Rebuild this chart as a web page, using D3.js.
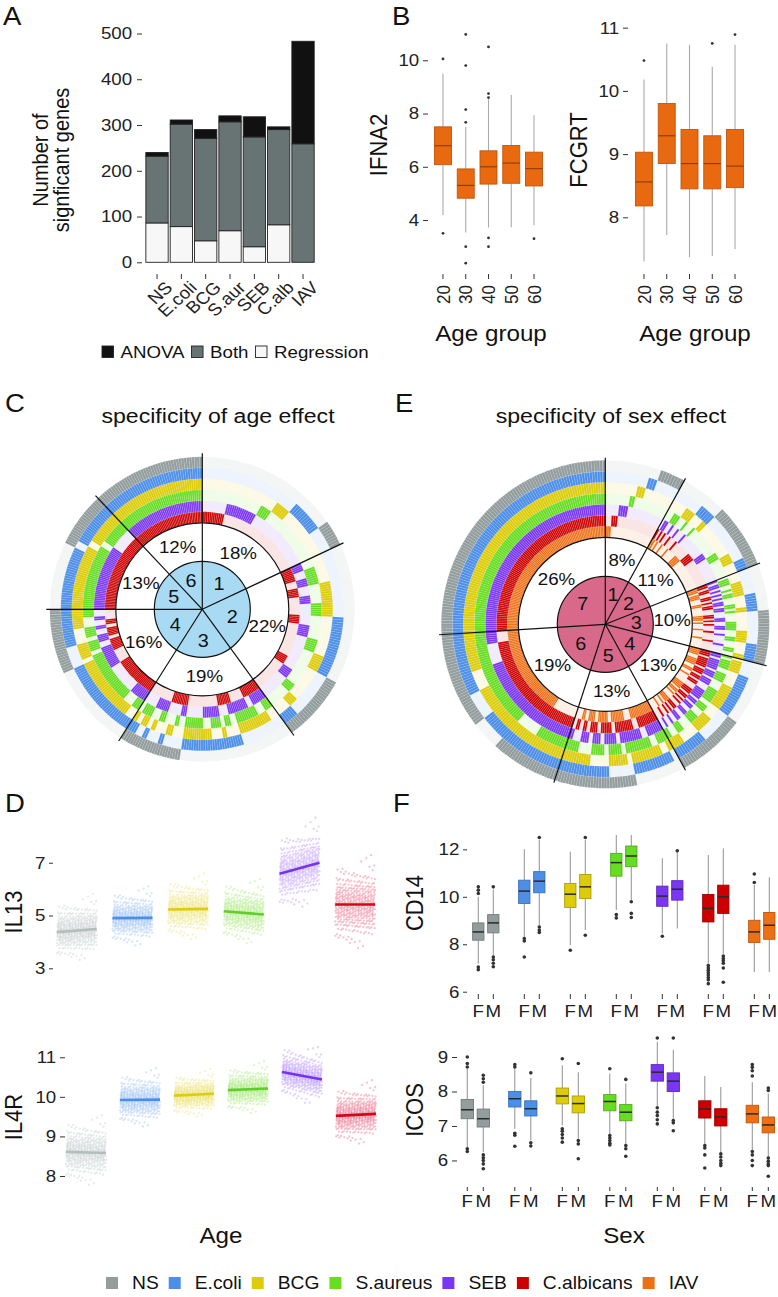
<!DOCTYPE html>
<html><head><meta charset="utf-8">
<script src="https://cdn.jsdelivr.net/npm/d3@7"></script>
<style>
body{margin:0;background:#fff}
svg{display:block}
text{font-family:"Liberation Sans",Arial,Helvetica,sans-serif}
</style>
</head><body>
<svg id="chart" width="778" height="1297"></svg>
<script>
// ---------------- DATA ----------------
// Panel A
const stimA = ["NS","E.coli","BCG","S.aur","SEB","C.alb","IAV"];
const regressionA = [86,78,47,69,34,82,0];
const bothA = [146,224,224,238,240,208,259];
const anovaA = [8,9,19,13,44,6,224];
const ticksA = [0,100,200,300,400,500];

// Panel B  (5-number summaries: lowWhisker, q1, median, q3, highWhisker)
const ageGroups = ["20","30","40","50","60"];
const ifna2Box = [[4.19,6.08,6.79,7.50,9.50],[3.53,4.82,5.30,5.92,7.50],[3.72,5.35,6.00,6.60,8.54],[3.73,5.38,6.14,6.80,8.70],[3.80,5.28,5.93,6.55,7.94]];
const ifna2Out = [[10.05,3.5],[7.67,8.15,9.8,10.97,3.0,2.38],[8.6,8.75,10.5,3.33,3.0],[],[3.3]];
const fcgrtBox = [[7.30,8.18,8.56,9.03,10.18],[7.72,8.85,9.29,9.80,10.75],[7.37,8.45,8.85,9.39,10.73],[7.39,8.45,8.85,9.29,10.38],[7.50,8.47,8.81,9.39,10.73]];
const fcgrtOut = [[10.48],[],[],[10.75],[10.89]];
const ifna2Ticks = [4,6,8,10];
const fcgrtTicks = [8,9,10,11];

// Panels C / E : sector shares (%) and gene runs [stimulus set, gene count]
// codes: N=NS E=E.coli B=BCG S=S.aureus P=SEB C=C.albicans I=IAV
const ageRingOrder = ["C","P","S","B","E","N"];          // inner -> outer
const ageSectorPct = [18,22,19,16,13,12];
const ageRuns1 = [["C",12],["P",15],["S",5],["B",6],["E",12],["N",9]];
const ageRuns2 = [["CP",4],["CS",4],["PS",4],["CB",5],["PB",4],["SB",6],["CE",5],["PE",6],["SE",6],["BE",7],["CN",5],["PN",5],["SN",4],["BN",4],["EN",6]];
const ageRuns3 = [["CPS",4],["CPB",4],["CSB",3],["PSB",8],["CPE",3],["CSE",3],["CBE",2],["PSE",5],["PBE",4],["SBE",9],["CPN",3],["CSN",2],["CBN",3],["CEN",2],["PSN",3],["PBN",2],["PEN",2],["SBN",3],["SEN",2],["BEN",2]];
const ageRuns4 = [["CPSE",4],["CPBE",5],["CSBE",16],["PSBE",8],["CPSN",2],["CPBN",2],["CSBN",3],["PSBN",2],["CPEN",2],["CSEN",3],["PSEN",2],["CBEN",3],["PBEN",2],["SBEN",4]];
const ageRuns5 = [["CPSBE",26],["CPSBN",3],["CPSEN",3],["CPBEN",3],["CSBEN",12]];
const ageRuns6 = [["CPSBEN",43]];

const sexRingOrder = ["I","C","P","S","B","E","N"];
const sexSectorPct = [8,11,10,13,13,19,26];
const sexRuns1 = [["I",3],["C",3],["P",4],["S",2],["B",3],["E",3],["N",8]];
const sexRuns2 = [["IC",1],["IP",1],["CP",1],["IS",1],["CS",1],["PS",1],["IB",1],["CB",1],["PB",1],["SB",1],["IE",1],["CE",1],["PE",1],["SE",1],["BE",2],["IN",4],["CN",4],["PN",3],["SN",3],["BN",4],["EN",4]];
const sexRuns3 = [["ICP",1],["ICS",1],["IPS",1],["CPS",1],["ICB",1],["IPB",1],["ISB",1],["CPB",1],["CSB",1],["PSB",1],["ICE",1],["IPE",1],["CPE",1],["CSE",1],["PSE",1],["PBE",1],["SBE",1],["ICN",2],["IPN",1],["CPN",1],["ISN",1],["CSN",1],["PSN",2],["IBN",1],["CBN",1],["PBN",1],["SBN",2],["IEN",1],["CEN",1],["PEN",1],["SEN",2],["BEN",2]];
const sexRuns4 = [["ICPS",1],["ICPB",1],["ICSB",1],["IPSB",1],["CPSB",2],["ICPE",2],["ICSE",1],["IPSE",1],["CPSE",2],["ICBE",1],["IPBE",1],["CPBE",2],["ISBE",1],["CSBE",2],["PSBE",3],["ICPN",2],["ICSN",1],["IPSN",1],["CPSN",1],["ICBN",1],["IPBN",1],["CPBN",1],["ISBN",1],["CSBN",1],["PSBN",2],["ICEN",2],["IPEN",1],["CPEN",1],["ISEN",1],["CSEN",1],["PSEN",1],["IBEN",1],["CBEN",1],["PBEN",1],["SBEN",2]];
const sexRuns5 = [["ICPSB",2],["ICPSE",3],["ICPBE",3],["ICSBE",3],["IPSBE",3],["CPSBE",4],["ICPSN",2],["ICPBN",2],["ICSBN",2],["IPSBN",2],["CPSBN",2],["ICPEN",2],["ICSEN",2],["IPSEN",2],["CPSEN",2],["ICBEN",2],["IPBEN",2],["CPBEN",2],["ISBEN",2],["CSBEN",2],["PSBEN",2]];
const sexRuns6 = [["CPSBEN",14],["ICPBEN",10],["ICPSBE",10],["ICPSBN",10],["ICPSEN",8],["ICSBEN",10],["IPSBEN",6]];
const sexRuns7 = [["ICPSBEN",94]];

// Panel D (per-stimulus distribution summary and fitted age line)
const stimD = ["NS","E.coli","BCG","S.aureus","SEB","C.albicans"];
const stimDCodes = ["N","E","B","S","P","C"];
const il13Mean = [4.45,4.90,5.25,5.10,6.80,5.40];
const il13Sd = [0.42,0.38,0.42,0.42,0.55,0.60];
const il13LineStart = [4.37,4.90,5.23,5.16,6.58,5.42];
const il13LineEnd = [4.49,4.91,5.25,5.04,7.00,5.42];
const il4rMean = [8.60,9.93,10.05,10.19,10.54,9.55];
const il4rSd = [0.30,0.25,0.20,0.22,0.25,0.27];
const il4rLineStart = [8.61,9.92,10.03,10.17,10.63,9.52];
const il4rLineEnd = [8.58,9.93,10.08,10.21,10.44,9.57];
const il13Ticks = [3,5,7];
const il4rTicks = [8,9,10,11];

// Panel F (5-number summaries by sex)
const stimF = ["NS","E.coli","BCG","S.aureus","SEB","C.albicans","IAV"];
const stimFCodes = ["N","E","B","S","P","C","I"];
const cd14Female = [[7.18,8.17,8.52,8.90,10.00],[8.30,9.72,10.24,10.70,12.00],[7.96,9.55,10.11,10.56,11.90],[9.44,10.87,11.44,11.83,12.60],[8.45,9.60,10.03,10.45,11.62],[7.18,8.94,9.51,10.10,11.76],[6.83,8.07,8.52,9.01,10.50]];
const cd14FemaleOut = [[10.14,10.28,10.42,7.04,6.93],[8.24,8.14,7.46],[7.75],[9.25,9.11],[8.34],[7.1,7.0,6.9,6.8,6.7,6.6,6.5,6.34],[10.6,10.96]];
const cd14Male = [[7.54,8.48,8.90,9.25,10.30],[8.80,10.17,10.66,11.06,12.40],[8.60,9.93,10.42,10.94,12.40],[9.86,11.27,11.72,12.14,12.60],[8.66,9.86,10.32,10.68,11.90],[7.60,9.30,10.00,10.49,12.04],[6.83,8.21,8.80,9.34,10.82]];
const cd14MaleOut = [[10.42,7.46,7.35,7.2,7.05],[12.5,8.73,8.6,8.5],[12.5,8.38],[9.79,9.3,9.13],[11.94],[7.5,7.4,7.3,7.2,7.0,6.4],[]];
const icosFemale = [[6.39,7.21,7.47,7.77,8.66],[6.92,7.55,7.79,8.00,8.66],[7.02,7.64,7.87,8.10,8.76],[6.77,7.44,7.71,7.91,8.52],[7.58,8.30,8.56,8.78,9.44],[6.48,7.23,7.49,7.73,8.45],[6.29,7.09,7.35,7.60,8.27]];
const icosFemaleOut = [[9.0,8.81,8.71,6.34,6.26],[8.78,8.71,6.79,6.73,6.41],[8.95,6.92,6.85,6.75,6.65,6.53],[8.66,6.72,6.65,6.58,6.5,6.45],[9.55,7.53,7.4,7.3,7.18,7.06],[6.43,6.36,6.16,5.78],[8.78,8.7,8.6,8.45,6.26,6.16,6.0,5.85]];
const icosMale = [[6.24,6.97,7.21,7.49,8.18],[6.58,7.29,7.50,7.73,8.39],[6.63,7.38,7.65,7.87,8.56],[6.48,7.15,7.40,7.62,8.23],[7.21,8.00,8.30,8.54,9.21],[6.24,7.00,7.26,7.50,8.13],[6.10,6.80,7.03,7.26,7.94]];
const icosMaleOut = [[8.47,8.37,8.27,6.16,6.08,6.0,5.9,5.76],[8.54,6.51,6.42],[8.81,6.58,6.48,6.05],[8.35,6.43,6.34,6.12],[9.55,7.16,7.09,6.86],[6.19,6.1,6.0,5.92,5.85],[8.1,8.03,6.07,5.98,5.9,5.85,5.54]];
const cd14Ticks = [6,8,10,12];
const icosTicks = [6,7,8,9];

// Legend
const legendNames = ["NS","E.coli","BCG","S.aureus","SEB","C.albicans","IAV"];
const legendCodes = ["N","E","B","S","P","C","I"];

// ---------------- STYLE ----------------
const stimColors = {N:"#939d9d",E:"#4d8fe8",B:"#ddcc0a",S:"#66dd22",P:"#7b36f3",C:"#cc0000",I:"#ee7015"};
const pointColors = {N:"#a3acac",E:"#5d9cec",B:"#e2d01c",S:"#74dc2c",P:"#8e55f6",C:"#dc1747"};
const lineColors = {N:"#b4bcbc",E:"#4a8fe7",B:"#dfcb10",S:"#62cc2e",P:"#7533ee",C:"#cc0a1a"};
const FONT = '"Liberation Sans", Arial, Helvetica, sans-serif';
const SX = 1.1;
const svg = d3.select("#chart");

function label(parent, x, y, str, size, opt = {}) {
  const rot = opt.rotate ? ` rotate(${opt.rotate})` : "";
  const t = parent.append("text")
    .attr("transform", `translate(${x},${y}) scale(${SX},1)${rot}`)
    .attr("font-size", size)
    .attr("text-anchor", opt.anchor || "start")
    .attr("fill", opt.fill || "#111")
    .text(str);
  if (opt.dy) t.attr("dy", opt.dy);
  return t;
}
function styleAxis(g, size) {
  g.attr("font-family", FONT).attr("font-size", size);
  g.select(".domain").remove();
  g.selectAll(".tick line").attr("stroke", "#333").attr("stroke-width", 1);
  g.selectAll(".tick text").attr("fill", "#222");
}
function leftAxis(scale, ticks, x, size, tickSize, pad) {
  const g = svg.append("g").attr("transform", `translate(${x},0)`)
    .call(d3.axisLeft(scale).tickValues(ticks).tickFormat(d3.format("d")).tickSize(tickSize).tickPadding(pad));
  styleAxis(g, size);
  g.selectAll(".tick text").attr("transform", `scale(${SX},1)`);
  return g;
}
function drawBox(g, cx, w, st, out, y, fill, stroke, medCol, whiskCol, medW, outR) {
  const [lo, q1, med, q3, hi] = st;
  g.append("line").attr("x1", cx).attr("x2", cx).attr("y1", y(hi)).attr("y2", y(q3)).attr("stroke", whiskCol).attr("stroke-width", 1.1);
  g.append("line").attr("x1", cx).attr("x2", cx).attr("y1", y(q1)).attr("y2", y(lo)).attr("stroke", whiskCol).attr("stroke-width", 1.1);
  g.append("rect").attr("x", cx - w / 2).attr("width", w).attr("y", y(q3)).attr("height", y(q1) - y(q3))
    .attr("fill", fill).attr("stroke", stroke).attr("stroke-width", 0.9);
  g.append("line").attr("x1", cx - w / 2).attr("x2", cx + w / 2).attr("y1", y(med)).attr("y2", y(med)).attr("stroke", medCol).attr("stroke-width", medW);
  g.selectAll(null).data(out).enter().append("circle").attr("cx", cx).attr("cy", d => y(d)).attr("r", outR).attr("fill", "#333");
}

// ---------------- PANEL A ----------------
label(svg, 3, 25, "A", 25);
const xA = d3.scaleBand().domain(stimA).range([144.85, 315.2]).paddingInner(0.083).paddingOuter(0.0415);
const yA = d3.scaleLinear().domain([0, 500]).range([262.3, 33.5]);
const tableA = stimA.map((s, i) => ({stim: s, Regression: regressionA[i], Both: bothA[i], ANOVA: anovaA[i]}));
const keysA = ["Regression", "Both", "ANOVA"];
const fillA = {ANOVA: "#111111", Both: "#687474", Regression: "#f7f7f7"};
const stackA = d3.stack().keys(keysA)(tableA);
const gA = svg.append("g");
stackA.forEach(layer => {
  gA.selectAll(null).data(layer).enter().append("rect")
    .attr("x", d => xA(d.data.stim)).attr("width", xA.bandwidth())
    .attr("y", d => yA(d[1])).attr("height", d => yA(d[0]) - yA(d[1]))
    .attr("fill", fillA[layer.key]).attr("stroke", "#222").attr("stroke-width", 0.9);
});
leftAxis(yA, ticksA, 142, 17, 5, 4);
const gAx = svg.append("g").attr("transform", "translate(0,274)").call(d3.axisBottom(xA).tickSize(5));
styleAxis(gAx, 17);
gAx.selectAll(".tick text").attr("text-anchor", "end").attr("x", 0).attr("y", 0).attr("dy", "0.72em")
  .attr("transform", `translate(7,6) scale(${SX},1) rotate(-45)`);
label(svg, 48, 160, "Number of", 20, {rotate: -90, anchor: "middle"});
label(svg, 69, 160, "signficant genes", 20, {rotate: -90, anchor: "middle"});
// legend A
(function () {
  let x = 102;
  const items = [["ANOVA", "#111111"], ["Both", "#687474"], ["Regression", "#f7f7f7"]];
  items.forEach(([name, col]) => {
    svg.append("rect").attr("x", x).attr("y", 346).attr("width", 11.5).attr("height", 11.5).attr("fill", col).attr("stroke", "#222").attr("stroke-width", 0.9);
    const t = label(svg, x + 18.5, 358, name, 17);
    x += 18.5 + t.node().getComputedTextLength() * SX + 7;
  });
})();

// ---------------- PANEL B ----------------
label(svg, 392, 25, "B", 25);
const orange = "#e8690f", orangeStroke = "#c2560f", orangeMed = "#8a3a08";
const xB1 = d3.scaleBand().domain(ageGroups).range([431.6, 545.4]);
const xB2 = d3.scaleBand().domain(ageGroups).range([632.6, 746.4]);
const yB1 = d3.scaleLinear().domain([2.3, 11.1]).range([265.3, 31]);
const yB2 = d3.scaleLinear().domain([7.2, 11.05]).range([267.9, 24.5]);
const gB = svg.append("g");
ageGroups.forEach((a, i) => {
  drawBox(gB, xB1(a) + xB1.bandwidth() / 2, 17, ifna2Box[i], ifna2Out[i], yB1, orange, orangeStroke, orangeMed, "#aaaaaa", 1.1, 1.4);
  drawBox(gB, xB2(a) + xB2.bandwidth() / 2, 17, fcgrtBox[i], fcgrtOut[i], yB2, orange, orangeStroke, orangeMed, "#aaaaaa", 1.1, 1.4);
});
leftAxis(yB1, ifna2Ticks, 428, 17, 5, 3);
leftAxis(yB2, fcgrtTicks, 628, 17, 5, 3);
[xB1, xB2].forEach(xs => {
  const g = svg.append("g").attr("transform", "translate(0,274)").call(d3.axisBottom(xs).tickSize(5));
  styleAxis(g, 17);
  g.selectAll(".tick text").attr("text-anchor", "end").attr("x", 0).attr("y", 0).attr("dy", "0.35em")
    .attr("transform", `translate(0,11) scale(${SX},1) rotate(-90)`);
});
label(svg, 387, 145, "IFNA2", 22, {rotate: -90, anchor: "middle"});
label(svg, 587, 150, "FCGRT", 22, {rotate: -90, anchor: "middle"});
label(svg, 491, 341, "Age group", 22, {anchor: "middle"});
label(svg, 695, 341, "Age group", 22, {anchor: "middle"});

// ---------------- PANELS C / E ----------------
function drawCircle(cx, cy, order, pcts, runsList, pieColor, rPie, rWhite, ringW, lineExt) {
  const g = svg.append("g").attr("transform", `translate(${cx},${cy})`);
  const arc = d3.arc();
  const rOuter = rWhite + order.length * ringW;
  order.forEach((code, k) => {
    g.append("path").attr("d", arc({innerRadius: rWhite + k * ringW, outerRadius: rWhite + (k + 1) * ringW, startAngle: 0, endAngle: 2 * Math.PI}))
      .attr("fill", stimColors[code]).attr("fill-opacity", 0.1);
  });
  const sectors = d3.pie().sort(null).value(d => d)(pcts);
  sectors.forEach((s, si) => {
    const genes = runsList[si].flatMap(([code, n]) => d3.range(n).map(() => code));
    const ang = d3.scaleLinear().domain([0, genes.length]).range([s.startAngle, s.endAngle]);
    genes.forEach((code, gi) => {
      order.forEach((stim, k) => {
        if (code.includes(stim)) {
          g.append("path")
            .attr("d", arc({innerRadius: rWhite + k * ringW, outerRadius: rWhite + (k + 1) * ringW, startAngle: ang(gi), endAngle: ang(gi + 1)}))
            .attr("fill", stimColors[stim]).attr("stroke", "#ffffff").attr("stroke-opacity", 0.3).attr("stroke-width", 0.4);
        }
      });
    });
  });
  g.append("circle").attr("r", rWhite).attr("fill", "#fff").attr("stroke", "#111").attr("stroke-width", 1.2);
  g.append("circle").attr("r", rPie).attr("fill", pieColor).attr("stroke", "#111").attr("stroke-width", 1.2);
  sectors.forEach(s => {
    const a = s.startAngle, R = rOuter + lineExt;
    g.append("line").attr("x1", 0).attr("y1", 0).attr("x2", Math.sin(a) * R).attr("y2", -Math.cos(a) * R)
      .attr("stroke", "#111").attr("stroke-width", 1.2);
  });
  sectors.forEach((s, si) => {
    const m = (s.startAngle + s.endAngle) / 2;
    label(g, Math.sin(m) * 67, -Math.cos(m) * 67, s.data + "%", 17, {anchor: "middle", dy: "0.36em"});
    label(g, Math.sin(m) * 31, -Math.cos(m) * 31, String(si + 1), 18, {anchor: "middle", dy: "0.36em"});
  });
}
label(svg, 5, 412, "C", 25);
label(svg, 218, 423, "specificity of age effect", 21, {anchor: "middle"});
drawCircle(202.3, 609.3, ageRingOrder, ageSectorPct, [ageRuns1, ageRuns2, ageRuns3, ageRuns4, ageRuns5, ageRuns6], "#a8dbf3", 48, 86.5, 11, 3.5);
label(svg, 395, 412, "E", 25);
label(svg, 611, 423, "specificity of sex effect", 21, {anchor: "middle"});
drawCircle(605.3, 624.3, sexRingOrder, sexSectorPct, [sexRuns1, sexRuns2, sexRuns3, sexRuns4, sexRuns5, sexRuns6, sexRuns7], "#d9698b", 48, 87, 11, 2.5);

// ---------------- PANEL D ----------------
function invNorm(p) {
  const a = [-3.969683028665376e+01, 2.209460984245205e+02, -2.759285104469687e+02, 1.383577518672690e+02, -3.066479806614716e+01, 2.506628277459239e+00];
  const b = [-5.447609879822406e+01, 1.615858368580409e+02, -1.556989798598866e+02, 6.680131188771972e+01, -1.328068155288572e+01];
  const c = [-7.784894002430293e-03, -3.223964580411365e-01, -2.400758277161838e+00, -2.549732539343734e+00, 4.374664141464968e+00, 2.938163982698783e+00];
  const d = [7.784695709041462e-03, 3.224671290700398e-01, 2.445134137142996e+00, 3.754408661907416e+00];
  const pl = 0.02425;
  let q, r;
  if (p < pl) { q = Math.sqrt(-2 * Math.log(p)); return (((((c[0]*q+c[1])*q+c[2])*q+c[3])*q+c[4])*q+c[5]) / ((((d[0]*q+d[1])*q+d[2])*q+d[3])*q+1); }
  if (p <= 1 - pl) { q = p - 0.5; r = q * q; return (((((a[0]*r+a[1])*r+a[2])*r+a[3])*r+a[4])*r+a[5])*q / (((((b[0]*r+b[1])*r+b[2])*r+b[3])*r+b[4])*r+1); }
  q = Math.sqrt(-2 * Math.log(1 - p)); return -(((((c[0]*q+c[1])*q+c[2])*q+c[3])*q+c[4])*q+c[5]) / ((((d[0]*q+d[1])*q+d[2])*q+d[3])*q+1);
}
function drawScatter(xs, ys, means, sds, starts, ends) {
  const g = svg.append("g");
  const nPts = 420;
  stimD.forEach((s, i) => {
    const code = stimDCodes[i];
    const cx = xs(s) + xs.bandwidth() / 2, half = 20;
    const pts = d3.range(nPts).map(j => {
      const u = (j * 0.7548776662 + 0.31) % 1;
      const v = Math.min(Math.max((j * 0.5698402910 + 0.17) % 1, 0.0008), 0.9992);
      const val = means[i] + sds[i] * invNorm(v) + (ends[i] - starts[i]) * (u - 0.5);
      return [cx - half + 2 * half * u, ys(val)];
    });
    g.selectAll(null).data(pts).enter().append("circle")
      .attr("cx", d => d[0]).attr("cy", d => d[1]).attr("r", 1.15)
      .attr("fill", pointColors[code]).attr("fill-opacity", 0.26);
    g.append("line").attr("x1", cx - half).attr("x2", cx + half).attr("y1", ys(starts[i])).attr("y2", ys(ends[i]))
      .attr("stroke", lineColors[code]).attr("stroke-width", 2.6).attr("stroke-linecap", "butt");
  });
}
label(svg, 5, 812, "D", 25);
const xD1 = d3.scaleBand().domain(stimD).range([49, 383]);
const xD2 = d3.scaleBand().domain(stimD).range([59, 383]);
const yD1 = d3.scaleLinear().domain([2.5, 8.6]).range([981.5, 820.5]);
const yD2 = d3.scaleLinear().domain([7.6, 11.5]).range([1191.8, 1037.5]);
drawScatter(xD1, yD1, il13Mean, il13Sd, il13LineStart, il13LineEnd);
drawScatter(xD2, yD2, il4rMean, il4rSd, il4rLineStart, il4rLineEnd);
leftAxis(yD1, il13Ticks, 53, 17, 4, 3);
leftAxis(yD2, il4rTicks, 65, 17, 5, 3);
label(svg, 22, 912, "IL13", 22, {rotate: -90, anchor: "middle"});
label(svg, 22, 1117, "IL4R", 22, {rotate: -90, anchor: "middle"});
label(svg, 221, 1243, "Age", 22, {anchor: "middle"});

// ---------------- PANEL F ----------------
label(svg, 393, 812, "F", 25);
function drawSexPanel(xGroup, xSex, y, female, femaleOut, male, maleOut, boxW, axisY, tickSize, pad) {
  const g = svg.append("g");
  stimF.forEach((s, i) => {
    const col = stimColors[stimFCodes[i]];
    const stroke = d3.color(col).darker(0.7).formatHex();
    [["F", female[i], femaleOut[i]], ["M", male[i], maleOut[i]]].forEach(([sex, st, out]) => {
      const cx = xGroup(s) + xSex(sex) + xSex.bandwidth() / 2;
      drawBox(g, cx, boxW, st, out, y, col, stroke, "#2a2a2a", "#9a9a9a", 1.5, 1.8);
    });
    const ax = svg.append("g").attr("transform", `translate(${xGroup(s)},${axisY})`)
      .call(d3.axisBottom(xSex).tickSize(tickSize).tickPadding(pad));
    styleAxis(ax, 17);
    ax.selectAll(".tick text").attr("transform", `scale(${SX},1)`);
  });
}
const xF1 = d3.scaleBand().domain(stimF).range([462.8, 784.8]);
const xSex1 = d3.scaleBand().domain(["F", "M"]).range([8, 38]);
const yF1 = d3.scaleLinear().domain([5.95, 12.6]).range([992.9, 835.1]);
drawSexPanel(xF1, xSex1, yF1, cd14Female, cd14FemaleOut, cd14Male, cd14MaleOut, 11.3, 994, 5, 6);
leftAxis(yF1, cd14Ticks, 467, 17, 4, 3);
const xF2 = d3.scaleBand().domain(stimF).range([451.55, 784.05]);
const xSex2 = d3.scaleBand().domain(["F", "M"]).range([7.75, 39.75]);
const yF2 = d3.scaleLinear().domain([5.45, 9.65]).range([1179.4, 1034.6]);
drawSexPanel(xF2, xSex2, yF2, icosFemale, icosFemaleOut, icosMale, icosMaleOut, 12.3, 1187, 4, 4);
leftAxis(yF2, icosTicks, 457, 17, 5, 3);
label(svg, 423, 903, "CD14", 22, {rotate: -90, anchor: "middle"});
label(svg, 423, 1110, "ICOS", 22, {rotate: -90, anchor: "middle"});
label(svg, 624, 1243, "Sex", 22, {anchor: "middle"});

// ---------------- LEGEND ----------------
(function () {
  let x = 106;
  legendNames.forEach((name, i) => {
    svg.append("rect").attr("x", x).attr("y", 1277).attr("width", 12).attr("height", 12).attr("fill", stimColors[legendCodes[i]]);
    const t = label(svg, x + 26, 1289, name, 17.5);
    x += 26 + t.node().getComputedTextLength() * SX + 10;
  });
})();
</script>
</body></html>
